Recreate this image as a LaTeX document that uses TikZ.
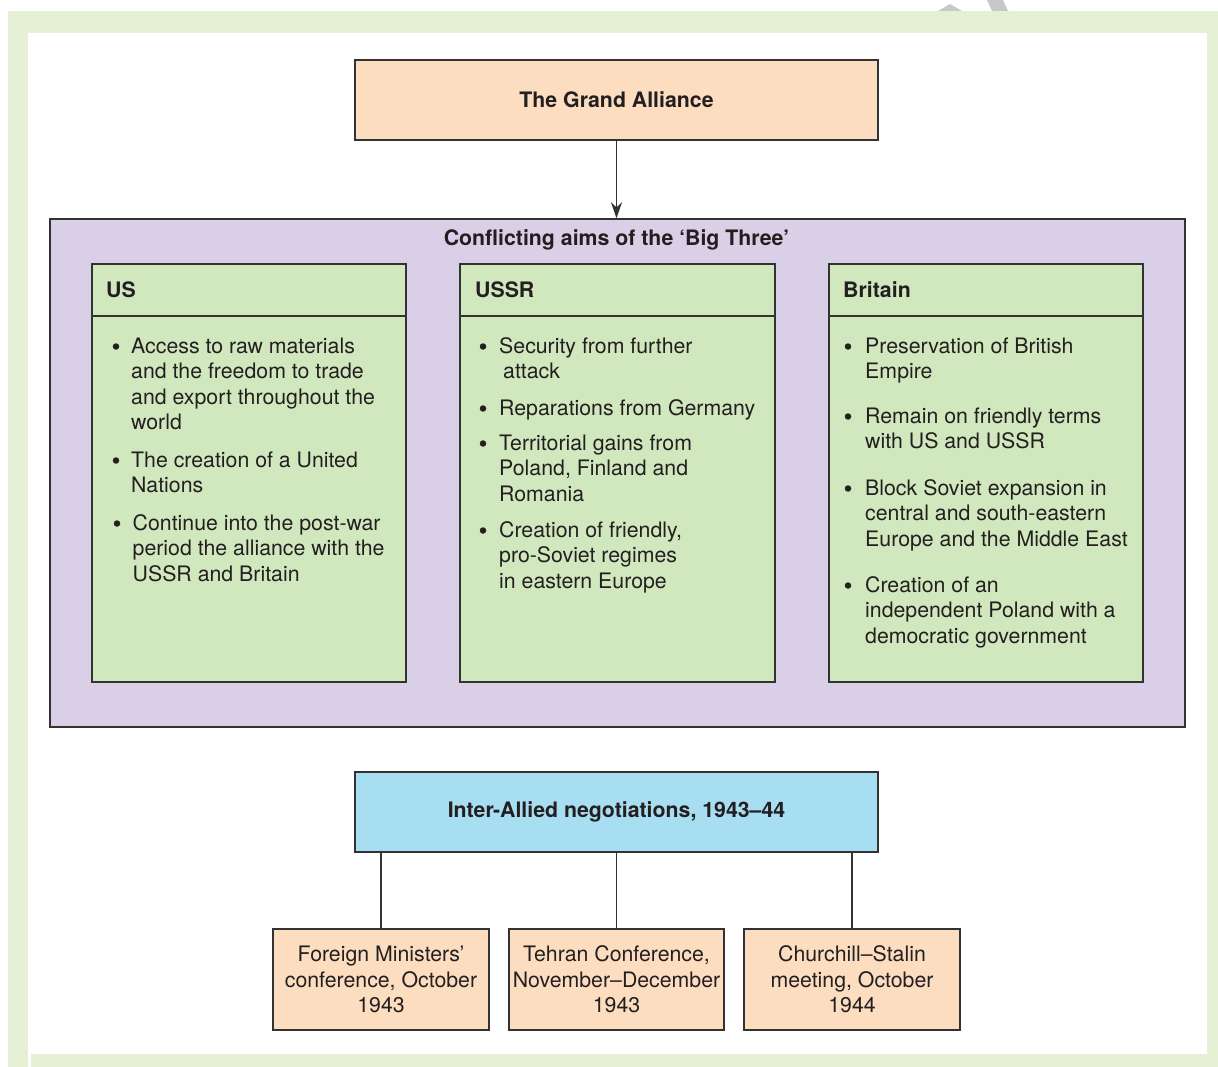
\documentclass[tikz,border=0pt]{standalone}
\usepackage{fontspec}
\setmainfont{TeX Gyre Heros}
\usetikzlibrary{arrows.meta}
\definecolor{framegreen}{RGB}{229,240,213}
\definecolor{peach}{RGB}{252,221,191}
\definecolor{lilac}{RGB}{217,207,230}
\definecolor{leaf}{RGB}{209,231,189}
\definecolor{sky}{RGB}{168,222,241}
\definecolor{edge}{RGB}{50,50,50}
\definecolor{ink}{RGB}{35,31,32}
\definecolor{wmark}{RGB}{200,200,200}
\newcommand\itf{\fontsize{21.3}{25.5}\selectfont}
\newcommand\hdf{\fontsize{21.3}{25.5}\selectfont\bfseries}
\begin{document}
\begin{tikzpicture}[x=1pt,y=-1pt,
  boxbase/.style={draw=edge, line width=1.5pt, rectangle, inner sep=0pt, text=ink},
  peachbox/.style={boxbase, fill=peach},
  skybox/.style={boxbase, fill=sky},
  leafbox/.style={boxbase, fill=leaf, minimum width=314pt, minimum height=418pt},
  lilacbox/.style={boxbase, fill=lilac},
  headtxt/.style={anchor=base west, inner sep=0pt, font=\hdf, text=ink},
  itemtxt/.style={anchor=base west, inner sep=0pt, font=\itf, text=ink},
  dotmark/.style={circle, fill=ink, inner sep=0pt, minimum size=6.5pt},
  link/.style={draw=edge, line width=1.7pt},
  ]
\useasboundingbox (0,0) rectangle (1218,1067);
% watermark fragments
\fill[wmark] (938,11) -- (950,4) -- (962,11) -- cycle;
\fill[wmark] (987,0) -- (1003,0) -- (1008,11) -- (992,11) -- cycle;
% frame
\fill[framegreen] (8,11) rectangle (1218,1067);
\fill[white] (28,33) rectangle (1207,1054);
\fill[white] (28,1054) rectangle (31,1067);

% top box
\node[peachbox, minimum width=523pt, minimum height=80pt, font=\hdf] (grand) at (616.5,100) {The Grand Alliance};

% lilac container
\node[lilacbox, minimum width=1135pt, minimum height=508pt] (aims) at (617.5,473) {};
\node[anchor=base, inner sep=0pt, font=\hdf, text=ink] (aimstitle) at (616.5,245.5) {Conflicting aims of the ‘Big Three’};

\draw[link, -{Stealth[length=16pt,width=11pt]}] (grand.south) -- (grand.south |- aims.north);

% country boxes
\node[leafbox] (us) at (249,473) {};
\node[leafbox, minimum width=315pt] (ussr) at (617.5,473) {};
\node[leafbox] (brit) at (986,473) {};
\foreach \b in {us,ussr,brit}{
  \draw[link] ([yshift=-53pt]\b.north west) -- ([yshift=-53pt]\b.north east);
}
\node[headtxt] (ush) at (106,298) {US};
\node[headtxt] (ussrh) at (475,298) {USSR};
\node[headtxt] (brith) at (843,298) {Britain};

% US items
\node[dotmark] (ub1) at (116,346.5) {};
\node[itemtxt] (ut1) at (131,353) {\parbox[t]{270pt}{\raggedright Access to raw materials\\and the freedom to trade\\and export throughout the\\world}};
\node[dotmark] (ub2) at (116,460.5) {};
\node[itemtxt] (ut2) at (131,467) {\parbox[t]{270pt}{\raggedright The creation of a United\\Nations}};
\node[dotmark] (ub3) at (117,523.5) {};
\node[itemtxt] (ut3) at (132.5,530) {\parbox[t]{270pt}{\raggedright Continue into the post-war\\period the alliance with the\\USSR and Britain}};

% USSR items
\node[dotmark] (sb1) at (483,346.5) {};
\node[itemtxt] (st1) at (499,353) {\parbox[t]{270pt}{\raggedright Security from further\\\hspace*{4pt}attack}};
\node[dotmark] (sb2) at (483,408.5) {};
\node[itemtxt] (st2) at (499,415) {\parbox[t]{270pt}{\raggedright Reparations from Germany}};
\node[dotmark] (sb3) at (483,443.5) {};
\node[itemtxt] (st3) at (499,450) {\parbox[t]{270pt}{\raggedright Territorial gains from\\Poland, Finland and\\Romania}};
\node[dotmark] (sb4) at (483,530.5) {};
\node[itemtxt] (st4) at (499,537) {\parbox[t]{270pt}{\raggedright Creation of friendly,\\pro-Soviet regimes\\in eastern Europe}};

% Britain items
\node[dotmark] (bb1) at (848,346.5) {};
\node[itemtxt] (bt1) at (865,353) {\parbox[t]{270pt}{\raggedright Preservation of British\\Empire}};
\node[dotmark] (bb2) at (848,416.5) {};
\node[itemtxt] (bt2) at (865,423) {\parbox[t]{270pt}{\raggedright Remain on friendly terms\\with US and USSR}};
\node[dotmark] (bb3) at (848,488.5) {};
\node[itemtxt] (bt3) at (865,495) {\parbox[t]{270pt}{\raggedright Block Soviet expansion in\\central and south-eastern\\Europe and the Middle East}};
\node[dotmark] (bb4) at (848,585.5) {};
\node[itemtxt] (bt4) at (865,592) {\parbox[t]{270pt}{\raggedright Creation of an\\independent Poland with a\\democratic government}};

% negotiations
\node[skybox, minimum width=523pt, minimum height=80pt, font=\hdf] (inter) at (616.5,812) {Inter-Allied negotiations, 1943–44};

\node[peachbox, minimum width=216pt, minimum height=101pt, font=\itf, align=center] (foreign) at (381,979.5) {Foreign Ministers’\\conference, October\\1943};
\node[peachbox, minimum width=215pt, minimum height=101pt, font=\itf, align=center] (tehran) at (616.5,979.5) {Tehran Conference,\\November–December\\1943};
\node[peachbox, minimum width=216pt, minimum height=101pt, font=\itf, align=center] (church) at (852,979.5) {Churchill–Stalin\\meeting, October\\1944};

\draw[link] (foreign.north) -- (foreign.north |- inter.south);
\draw[link] (tehran.north) -- (tehran.north |- inter.south);
\draw[link] (church.north) -- (church.north |- inter.south);
\end{tikzpicture}
\end{document}
